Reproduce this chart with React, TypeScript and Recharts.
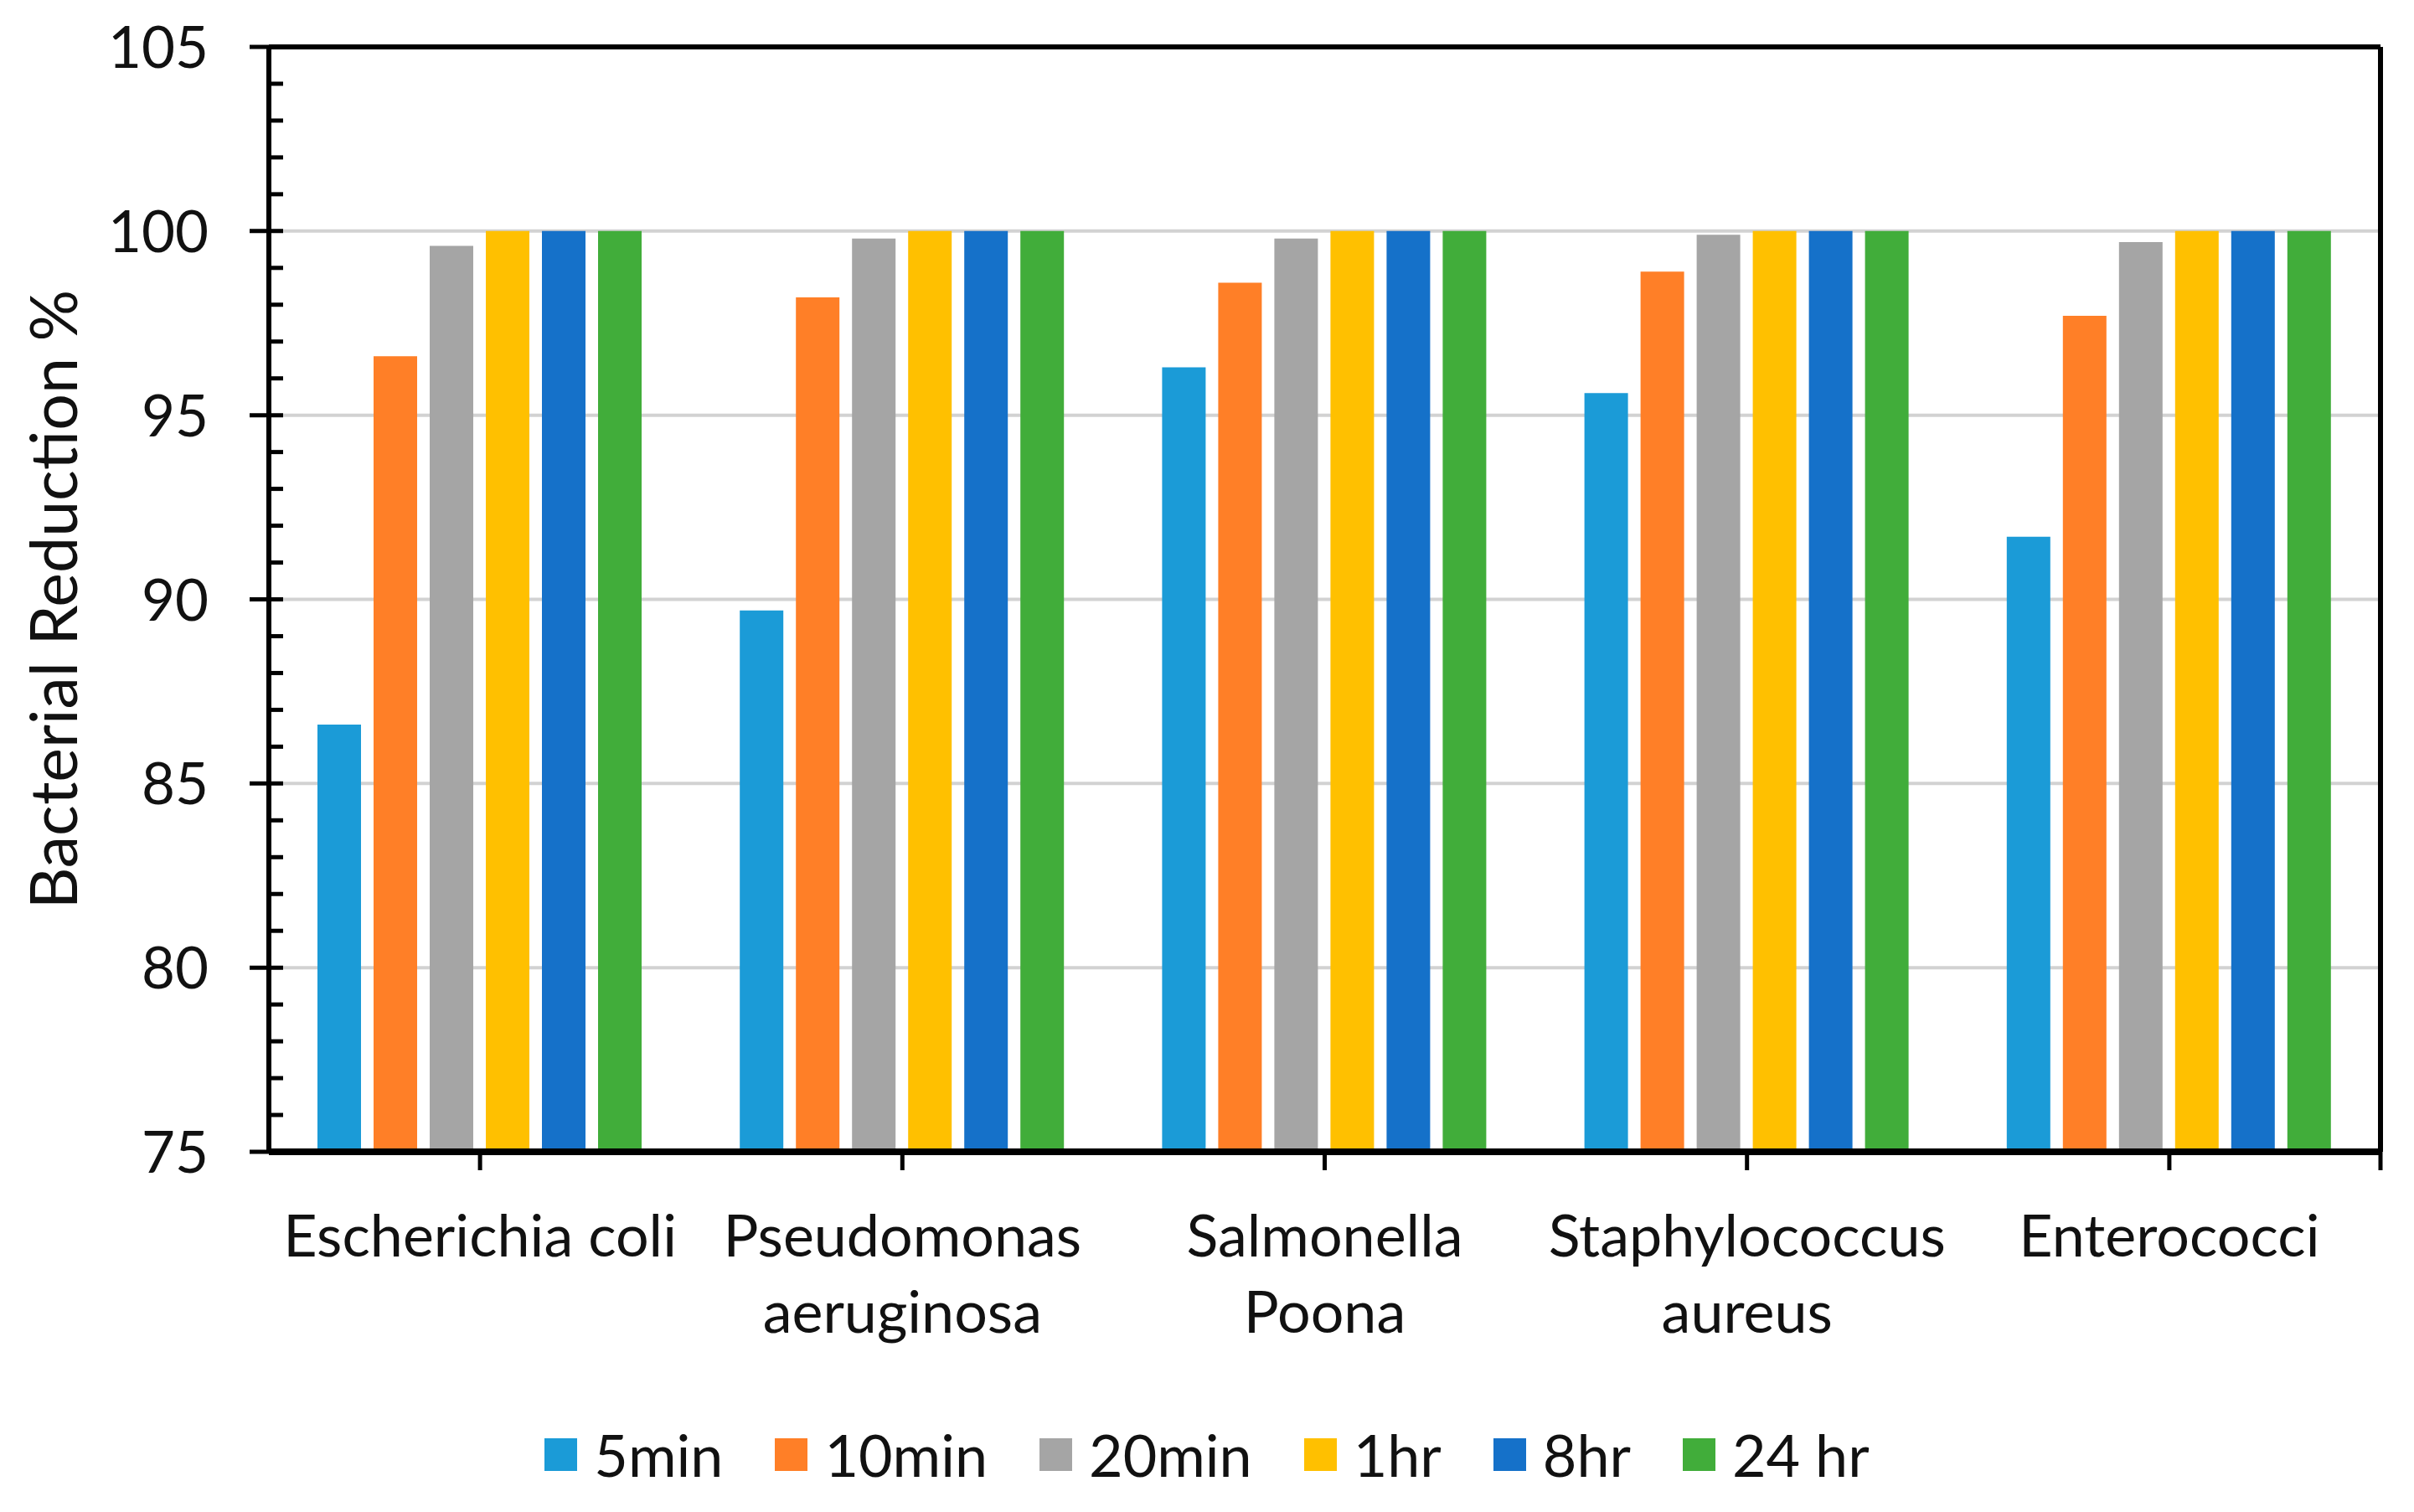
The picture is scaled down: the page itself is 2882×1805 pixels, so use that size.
import { BarChart, Bar, XAxis, YAxis, CartesianGrid, Legend } from "recharts"

const categories = ["Escherichia coli", "Pseudomonas aeruginosa", "Salmonella Poona", "Staphylococcus aureus", "Enterococci"]
const categoryLines = [["Escherichia coli"], ["Pseudomonas", "aeruginosa"], ["Salmonella", "Poona"], ["Staphylococcus", "aureus"], ["Enterococci"]]
const seriesNames = ["5min", "10min", "20min", "1hr", "8hr", "24 hr"]

const min5 = [86.6, 89.7, 96.3, 95.6, 91.7]
const min10 = [96.6, 98.2, 98.6, 98.9, 97.7]
const min20 = [99.6, 99.8, 99.8, 99.9, 99.7]
const hr1 = [100, 100, 100, 100, 100]
const hr8 = [100, 100, 100, 100, 100]
const hr24 = [100, 100, 100, 100, 100]

const yTicks = [75, 76, 77, 78, 79, 80, 81, 82, 83, 84, 85, 86, 87, 88, 89, 90, 91, 92, 93, 94, 95, 96, 97, 98, 99, 100, 101, 102, 103, 104, 105]
const gridValues = [80, 85, 90, 95, 100]

const series = [min5, min10, min20, hr1, hr8, hr24]
const colors = ["#1B9BD7", "#FF7F27", "#A5A5A5", "#FFC000", "#1571C9", "#41AD3A"]

const data = categories.map((name, i) => {
  const row: Record<string, any> = { name }
  series.forEach((s, k) => {
    row["s" + k] = s[i]
  })
  return row
})

const W = 2866
const H = 1790
const LEFT = 313
const RIGHT = 32
const FONT = "Lato, 'Noto Sans', sans-serif"
const HALF_BAND = (W - LEFT - RIGHT) / categories.length / 2

function YTick(props: any) {
  const { x, y, payload } = props
  const major = payload.value % 5 === 0
  return (
    <g>
      <line x1={major ? x - 23 : x} x2={x + 17} y1={y} y2={y} stroke="#000" strokeWidth={5} />
      {major && (
        <text x={x - 72} y={y + 25} textAnchor="end" fontSize={69} fontFamily={FONT} fill="#111">
          {payload.value}
        </text>
      )}
    </g>
  )
}

function XTick(props: any) {
  const { x, y, payload } = props
  const lines = categoryLines[payload.index] || [payload.value]
  const last = payload.index === categories.length - 1
  return (
    <g>
      <line x1={x} x2={x} y1={y} y2={y + 22} stroke="#000" strokeWidth={5} />
      {last && <line x1={x + HALF_BAND} x2={x + HALF_BAND} y1={y} y2={y + 22} stroke="#000" strokeWidth={5} />}
      {lines.map((t: string, i: number) => (
        <text key={i} x={x} y={y + 125 + i * 91} textAnchor="middle" fontSize={70} fontFamily={FONT} fill="#111">
          {t}
        </text>
      ))}
    </g>
  )
}

function YLabel(props: any) {
  const { viewBox } = props
  const cy = viewBox.y + viewBox.height / 2
  return (
    <text x={84} y={cy} transform={`rotate(-90, 84, ${cy})`} textAnchor="middle" fontSize={77} fontFamily={FONT} fill="#111">
      Bacterial Reduction %
    </text>
  )
}

function LegendBox() {
  return (
    <div style={{ height: 100, width: W, display: "flex", justifyContent: "center", alignItems: "flex-start", paddingTop: 18, boxSizing: "border-box" }}>
      {seriesNames.map((name, i) => (
        <div key={name} style={{ display: "flex", alignItems: "center", marginRight: i < seriesNames.length - 1 ? 62 : 0 }}>
          <div style={{ width: 39, height: 39, background: colors[i], marginRight: 20 }} />
          <span style={{ fontSize: 70, fontFamily: FONT, color: "#111", lineHeight: "40px" }}>{name}</span>
        </div>
      ))}
    </div>
  )
}

export default function App() {
  return (
    <div style={{ width: W, height: H }}>
      <BarChart width={W} height={H} data={data} margin={{ top: 48, right: RIGHT, left: 0, bottom: 0 }} barCategoryGap={58} barGap={15}>
        <CartesianGrid vertical={false} horizontalValues={gridValues} stroke="#d2d2d2" strokeWidth={4} />
        <XAxis dataKey="name" height={323} tickSize={0} tickMargin={0} tick={<XTick />} interval={0} axisLine={{ stroke: "#000", strokeWidth: 8 }} />
        <YAxis
          domain={[75, 105]}
          ticks={yTicks}
          interval={0}
          width={LEFT}
          tickSize={0}
          tickMargin={0}
          tick={<YTick />}
          axisLine={{ stroke: "#000", strokeWidth: 6 }}
          label={<YLabel />}
        />
        <Legend verticalAlign="bottom" content={<LegendBox />} />
        {series.map((_, k) => (
          <Bar key={k} dataKey={"s" + k} name={seriesNames[k]} fill={colors[k]} isAnimationActive={false} />
        ))}
        <CartesianGrid
          stroke="#000"
          strokeWidth={6}
          horizontalCoordinatesGenerator={(p: any) => [p.offset.top]}
          verticalCoordinatesGenerator={(p: any) => [p.offset.left + p.offset.width]}
        />
      </BarChart>
    </div>
  )
}
